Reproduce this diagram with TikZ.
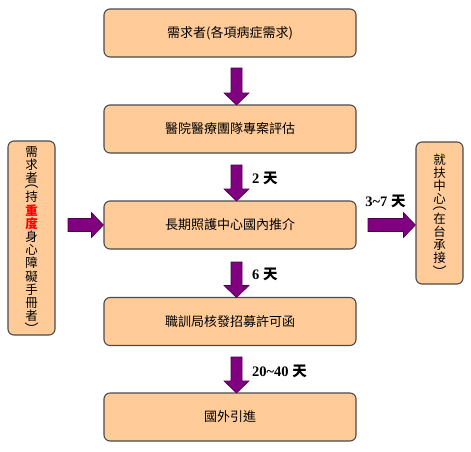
\documentclass[tikz,border=0pt]{standalone}
\usepackage{fontspec}
\usepackage{graphicx}
\setmainfont{Liberation Serif}
\newfontfamily\cjk{Noto Sans CJK TC}
\usetikzlibrary{calc}
\definecolor{peach}{HTML}{FFCC99}
\definecolor{boxedge}{HTML}{4A4A4A}
\definecolor{apurple}{HTML}{800080}
\definecolor{aedge}{HTML}{4A004A}
\tikzset{
  box/.style={draw=boxedge, line width=1.1pt, fill=peach, rounded corners=6pt,
    minimum width=252pt, minimum height=48pt, inner sep=0pt,
    font=\cjk\fontsize{13}{15}\selectfont},
  vbox/.style={draw=boxedge, line width=1.1pt, fill=peach, rounded corners=6pt,
    minimum width=47pt, inner sep=0pt, align=center,
    font=\cjk\fontsize{12.5}{13.2}\selectfont},
  days/.style={font=\bfseries\fontsize{14.5}{16}\selectfont, inner sep=0pt, anchor=west},
  fat/.style={fill=apurple, draw=aedge, line width=0.6pt,
    to path={let \p1=(\tikztostart), \p2=(\tikztotarget),
      \n1={atan2(\y2-\y1,\x2-\x1)} in
      ($(\p1)+({\n1+90}:#1)$)
      -- ($(\p2)+({\n1+180}:12pt)+({\n1+90}:#1)$)
      -- ($(\p2)+({\n1+180}:12pt)+({\n1+90}:12.5pt)$)
      -- (\p2)
      -- ($(\p2)+({\n1+180}:12pt)+({\n1-90}:12.5pt)$)
      -- ($(\p2)+({\n1+180}:12pt)+({\n1-90}:#1)$)
      -- ($(\p1)+({\n1-90}:#1)$) -- cycle}},
  fat/.default=5.5pt
}
\newcommand\tian{{\cjk\bfseries 天}}
\newcommand\vopen{\smash{\raisebox{5pt}{\fontsize{14}{14}\selectfont ︵}}}
\newcommand\vclose{\smash{\raisebox{-5pt}{\fontsize{14}{14}\selectfont ︶}}}
\newcommand\redc[1]{\textcolor{red}{\bfseries #1}}
\begin{document}
\begin{tikzpicture}[x=1pt,y=1pt]
\useasboundingbox (0,0) rectangle (471,-451);
\node[box] (b1) at (230,-33) {需求者(各項病症需求)};
\node[box] (b2) at (230,-129) {醫院醫療團隊專案評估};
\node[box] (b3) at (230,-225) {長期照護中心國內推介};
\node[box] (b4) at (230,-321.5) {職訓局核發招募許可函};
\node[box] (b5) at (230,-417) {國外引進};
\node[vbox, minimum height=194pt] (left) at (31.5,-238)
  {需\\求\\者\\[-3pt]\vopen\\[-4pt]持\\\redc{重}\\\redc{度}\\身\\心\\障\\礙\\手\\冊\\者\\[-4pt]\vclose};
\node[vbox, minimum height=142pt] (right) at (439.5,-213)
  {就\\扶\\中\\心\\[-3pt]\vopen\\[-4pt]在\\台\\承\\接\\[-4pt]\vclose};
% connectors
\coordinate (a1s) at (236.5,-68);
\coordinate (a1e) at (236.5,-105);
\coordinate (a2s) at (236.5,-165);
\coordinate (a2e) at (236.5,-201);
\coordinate (a3s) at (236.5,-262);
\coordinate (a3e) at (236.5,-297.5);
\coordinate (a4s) at (236.5,-357);
\coordinate (a4e) at (236.5,-393);
\coordinate (als) at (68,-225);
\coordinate (ale) at (b3.west);
\coordinate (ars) at (368,-225);
\coordinate (are) at (right.west |- ars);
\draw[fat] (a1s) to (a1e);
\draw[fat] (a2s) to (a2e);
\draw[fat] (a3s) to (a3e);
\draw[fat] (a4s) to (a4e);
\draw[fat=6.5pt] (als) to (ale);
\draw[fat=6.5pt] (ars) to (are);
% labels
\node[days] (d2) at (252,-178) {2 \tian};
\node[days] (d6) at (252,-274) {6 \tian};
\node[days] (d20) at (252,-371) {20\textasciitilde40 \tian};
\node[days, anchor=center] (d37) at (385.5,-201.5) {3\textasciitilde7 \tian};
\end{tikzpicture}
\end{document}
